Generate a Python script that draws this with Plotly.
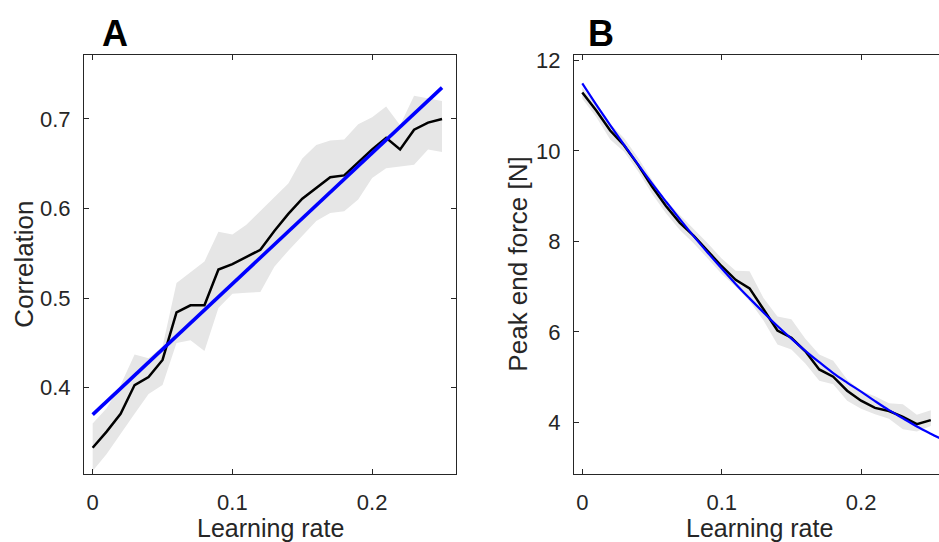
import plotly.graph_objects as go

# ---------------- data ----------------
lr = [0.00, 0.01, 0.02, 0.03, 0.04, 0.05, 0.06, 0.07, 0.08, 0.09, 0.10, 0.11, 0.12,
      0.13, 0.14, 0.15, 0.16, 0.17, 0.18, 0.19, 0.20, 0.21, 0.22, 0.23, 0.24, 0.25]

# Panel A: correlation
corr_mean = [0.333, 0.351, 0.371, 0.403, 0.412, 0.431, 0.484, 0.492, 0.492, 0.532, 0.538, 0.546, 0.554,
             0.575, 0.594, 0.611, 0.623, 0.635, 0.637, 0.652, 0.666, 0.679, 0.666, 0.688, 0.696, 0.700]
corr_upper = [0.360, 0.377, 0.403, 0.437, 0.433, 0.446, 0.517, 0.529, 0.541, 0.574, 0.571, 0.582, 0.597,
              0.612, 0.628, 0.656, 0.671, 0.676, 0.677, 0.694, 0.702, 0.714, 0.693, 0.726, 0.723, 0.720]
corr_lower = [0.307, 0.326, 0.348, 0.371, 0.393, 0.403, 0.450, 0.453, 0.441, 0.489, 0.505, 0.506, 0.507,
              0.535, 0.553, 0.570, 0.586, 0.595, 0.597, 0.610, 0.634, 0.645, 0.647, 0.649, 0.666, 0.663]
corr_fit_x = [0.0, 0.25]
corr_fit_y = [0.370, 0.735]

# Panel B: peak end force
force_mean = [11.29, 10.89, 10.45, 10.12, 9.69, 9.21, 8.78, 8.41, 8.12, 7.79, 7.45, 7.15, 6.96,
              6.50, 6.03, 5.87, 5.57, 5.17, 5.01, 4.70, 4.48, 4.32, 4.25, 4.12, 3.96, 4.05]
force_upper = [11.40, 11.00, 10.60, 10.28, 9.85, 9.36, 8.90, 8.58, 8.28, 7.96, 7.62, 7.35, 7.34,
               6.75, 6.34, 6.28, 5.85, 5.50, 5.36, 4.95, 4.70, 4.58, 4.42, 4.40, 4.17, 4.27]
force_lower = [11.15, 10.75, 10.25, 9.98, 9.55, 9.05, 8.62, 8.25, 7.95, 7.62, 7.28, 7.00, 6.68,
               6.25, 5.72, 5.61, 5.30, 4.92, 4.84, 4.48, 4.30, 4.18, 4.08, 3.85, 3.80, 3.92]
force_fit_x = [0.00, 0.01, 0.02, 0.03, 0.04, 0.05, 0.06, 0.07, 0.08, 0.09, 0.10, 0.11, 0.12, 0.13,
               0.14, 0.15, 0.16, 0.17, 0.18, 0.19, 0.20, 0.21, 0.22, 0.23, 0.24, 0.25, 0.26]
force_fit_y = [11.49, 11.02, 10.57, 10.13, 9.70, 9.28, 8.88, 8.49, 8.11, 7.75, 7.40, 7.06, 6.74, 6.43,
               6.13, 5.85, 5.58, 5.33, 5.09, 4.88, 4.68, 4.47, 4.27, 4.09, 3.91, 3.75, 3.60]

x_ticks = [0, 0.1, 0.2]
x_ticktext = ["0", "0.1", "0.2"]
a_yticks = [0.4, 0.5, 0.6, 0.7]
a_yticktext = ["0.4", "0.5", "0.6", "0.7"]
b_yticks = [4, 6, 8, 10, 12]
b_yticktext = ["4", "6", "8", "10", "12"]

# ---------------- style ----------------
W, H = 939, 542
FONT = "Liberation Sans, Arial, Helvetica, sans-serif"
AX = "#262626"
BAND = "#e6e6e6"

fig = go.Figure()

# Panel A
fig.add_trace(go.Scatter(x=lr + lr[::-1], y=corr_upper + corr_lower[::-1], fill="toself",
                         fillcolor=BAND, line=dict(width=0), mode="lines", hoverinfo="skip",
                         xaxis="x", yaxis="y", showlegend=False))
fig.add_trace(go.Scatter(x=lr, y=corr_mean, mode="lines", line=dict(color="black", width=2.5),
                         xaxis="x", yaxis="y", showlegend=False))
fig.add_trace(go.Scatter(x=corr_fit_x, y=corr_fit_y, mode="lines", line=dict(color="#0000ff", width=3.5),
                         xaxis="x", yaxis="y", showlegend=False))

# Panel B
fig.add_trace(go.Scatter(x=lr + lr[::-1], y=force_upper + force_lower[::-1], fill="toself",
                         fillcolor=BAND, line=dict(width=0), mode="lines", hoverinfo="skip",
                         xaxis="x2", yaxis="y2", showlegend=False))
fig.add_trace(go.Scatter(x=lr, y=force_mean, mode="lines", line=dict(color="black", width=2.5),
                         xaxis="x2", yaxis="y2", showlegend=False))
fig.add_trace(go.Scatter(x=force_fit_x, y=force_fit_y, mode="lines",
                         line=dict(color="#0000ff", width=2.2, shape="spline"),
                         xaxis="x2", yaxis="y2", showlegend=False))

def xpx(p):
    return p / W

def ypx(p):
    return (H - p) / H

axis_common = dict(showgrid=False, zeroline=False, showline=True, linecolor=AX, linewidth=1,
                   ticks="inside", ticklen=5, tickwidth=1, tickcolor=AX,
                   tickfont=dict(family=FONT, size=22, color=AX))

yd = [ypx(473.3), ypx(49.0)]

fig.update_layout(
    width=W, height=H, margin=dict(l=0, r=0, t=0, b=0),
    paper_bgcolor="white", plot_bgcolor="white",
    xaxis=dict(domain=[xpx(84), xpx(456)], range=[-0.0062, 0.26], anchor="y",
               tickvals=x_ticks, ticktext=x_ticktext, mirror="ticks", ticklabelstandoff=8,
               **axis_common),
    yaxis=dict(domain=yd, range=[0.3035, 0.771], anchor="x",
               tickvals=a_yticks, ticktext=a_yticktext, mirror="ticks", ticklabelstandoff=8,
               **axis_common),
    xaxis2=dict(domain=[xpx(574), 1.0], range=[-0.00595, 0.2559], anchor="y2",
                tickvals=x_ticks, ticktext=x_ticktext, mirror="ticks", ticklabelstandoff=8,
                **axis_common),
    yaxis2=dict(domain=yd, range=[2.855, 12.11], anchor="x2",
                tickvals=b_yticks, ticktext=b_yticktext, mirror=False, ticklabelstandoff=8,
                **axis_common),
)

def ann(text, x, y, size, angle=0, bold=False, pad=1):
    fig.add_annotation(text=("<b>%s</b>" % text) if bold else text, x=xpx(x), y=ypx(y),
                       xref="paper", yref="paper", showarrow=False, textangle=angle,
                       xanchor="center", yanchor="middle", borderpad=0,
                       font=dict(family=FONT, size=size, color="black" if bold else AX))

ann("A", 115, 27, 36, bold=True)
ann("B", 601, 27, 36, bold=True)
ann("Learning rate", 270, 528, 25)
ann("Learning rate", 759, 528, 25)
ann("Correlation", 24, 261, 26, angle=-90)
ann("Peak end force [N]", 518, 261, 26, angle=-90)

fig.write_html("out.html")
